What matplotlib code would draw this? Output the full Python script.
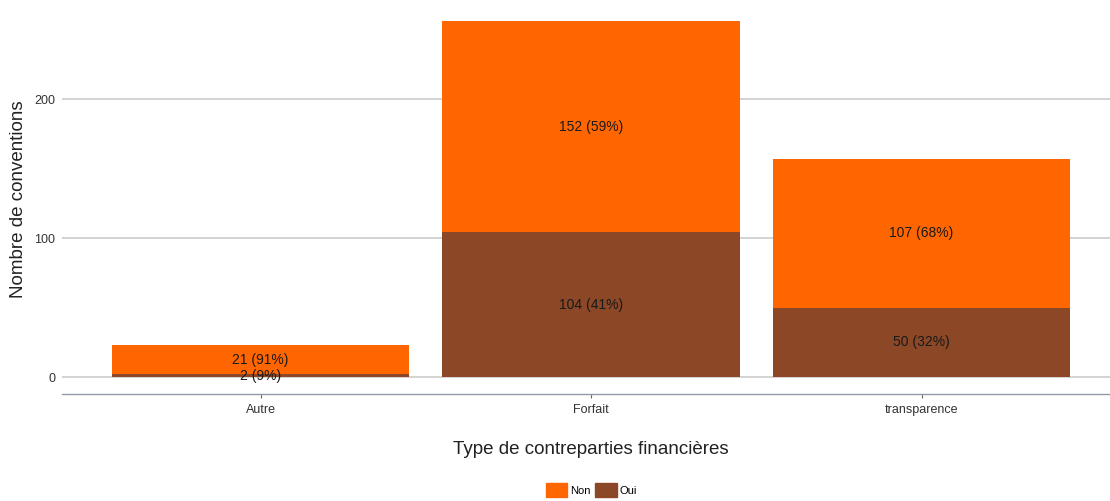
import matplotlib.pyplot as plt
from matplotlib.patches import Patch

plt.rcParams['font.family'] = ['Liberation Sans', 'DejaVu Sans']

categories = ['Autre', 'Forfait', 'transparence']
oui = [2, 104, 50]
non = [21, 152, 107]
oui_pct = [9, 41, 32]
non_pct = [91, 59, 68]

col_non = '#FF6600'
col_oui = '#8B4726'

fig = plt.figure(figsize=(11.1, 5.01), dpi=100)
ax = fig.add_axes([0.0561, 0.2136, 0.9528, 0.7796])

x = range(len(categories))
ax.bar(x, oui, width=0.9, color=col_oui, zorder=2)
ax.bar(x, non, bottom=oui, width=0.9, color=col_non, zorder=2)

# étiquettes au milieu de chaque segment
for i in x:
    ax.text(i, oui[i] / 2, '%d (%d%%)' % (oui[i], oui_pct[i]),
            ha='center', va='center', fontsize=10, color='#1a1a1a', zorder=3)
    ax.text(i, oui[i] + non[i] / 2, '%d (%d%%)' % (non[i], non_pct[i]),
            ha='center', va='center', fontsize=10, color='#1a1a1a', zorder=3)

ax.set_xlim(-0.6, 2.6)
ax.set_ylim(-12.2, 268.8)
ax.set_xticks(list(x))
ax.set_xticklabels(categories, fontsize=9, color='#333333')
ax.set_yticks([0, 100, 200])
ax.set_yticklabels(['0', '100', '200'], fontsize=9, color='#333333')
ax.tick_params(axis='y', length=0, pad=5)
ax.tick_params(axis='x', length=3, color='#666666', pad=4)

ax.grid(axis='y', color='#cccccc', linewidth=1.2, zorder=0)
for s in ['top', 'right', 'left']:
    ax.spines[s].set_visible(False)
ax.spines['bottom'].set_color('#8f9ba6')
ax.spines['bottom'].set_linewidth(1.0)

ax.set_xlabel('Type de contreparties financières', fontsize=13.5, labelpad=18, color='#222222')
ax.set_ylabel('Nombre de conventions', fontsize=13.5, labelpad=5, color='#222222')

handles = [Patch(color=col_non, label='Non'), Patch(color=col_oui, label='Oui')]
fig.legend(handles=handles, loc='lower center', bbox_to_anchor=(0.533, -0.012), ncol=2,
           frameon=False, fontsize=8, handlelength=1.9, handleheight=1.5,
           handletextpad=0.3, columnspacing=0.4)

fig.savefig('out.png', dpi=100)
